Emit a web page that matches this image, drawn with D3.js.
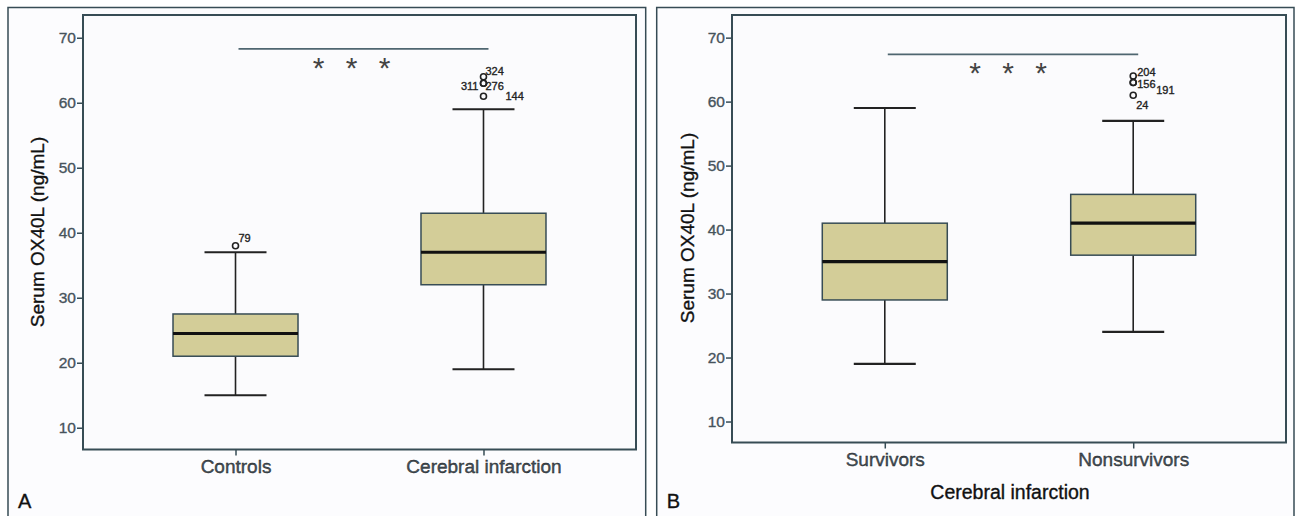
<!DOCTYPE html>
<html>
<head>
<meta charset="utf-8">
<script src="https://cdn.jsdelivr.net/npm/d3@7"></script>
<style>
  body { margin: 0; background: #fff; }
  svg { display: block; font-family: Arial, "Liberation Sans", sans-serif; }
  .tick text { fill: #46535c; }
</style>
</head>
<body>
<svg id="chart" width="1299" height="516"></svg>
<script>
// panel A: controls vs cerebral infarction
var catsA     = ["Controls", "Cerebral infarction"];
var lowA      = [15, 19];
var q1A       = [21, 32];
var medA      = [24.5, 37];
var q3A       = [27.5, 43];
var highA     = [37, 59];
var outValsA  = [[38], [64, 63, 63, 61]];
var outIdsA   = [["79"], ["324", "311", "276", "144"]];

// panel B: survivors vs nonsurvivors
var catsB     = ["Survivors", "Nonsurvivors"];
var lowB      = [19, 24];
var q1B       = [29, 36];
var medB      = [35, 41];
var q3B       = [41, 45.5];
var highB     = [59, 57];
var outValsB  = [[], [64, 63, 63, 61]];
var outIdsB   = [[], ["204", "156", "191", "24"]];

var yTicks = [10, 20, 30, 40, 50, 60, 70];
var yLabel = "Serum OX40L (ng/mL)";

var lineCol = "#374c55",
    boxFill = "#d3cd98";

// label offsets from the circle, SPSS style
var labelPos = {
  "79":  [3, -4, "start"],  "324": [2, -2, "start"], "311": [-5, 7, "end"],
  "276": [2, 7, "start"],   "144": [22, 4, "start"], "204": [4, 0, "start"],
  "156": [4, 6, "start"],   "191": [23, 12, "start"], "24": [3, 14, "start"]
};

var svg = d3.select("#chart");

function heavy(sel, col) { // blurred print look: thin outline round the glyphs
  sel.attr("stroke", col).attr("stroke-width", 0.35);
}

function boxPanel(p) {
  var g = svg.append("g");

  // outer frame of the panel
  g.append("rect")
    .attr("x", p.frame[0]).attr("y", 7.5)
    .attr("width", p.frame[1] - p.frame[0]).attr("height", 540)
    .attr("fill", "#fcfcfe").attr("stroke", lineCol).attr("stroke-width", 1.5);

  var x = d3.scalePoint().domain(p.cats).range([p.left, p.right]).padding(0.615);
  var y = d3.scaleLinear().domain(p.ydom).range([p.bottom, 15]);

  g.append("rect")
    .attr("x", p.left).attr("y", 15)
    .attr("width", p.right - p.left).attr("height", p.bottom - 15)
    .attr("fill", "#fbfbfd").attr("stroke", lineCol).attr("stroke-width", 2);

  var yAxis = g.append("g")
    .attr("transform", "translate(" + p.left + ",0)")
    .call(d3.axisLeft(y).tickValues(yTicks).tickSize(6).tickPadding(1));
  yAxis.select(".domain").remove();
  yAxis.selectAll("line").attr("stroke", lineCol).attr("stroke-width", 1.5);
  yAxis.selectAll("text").attr("font-size", 15.5).attr("font-family", "Arial, 'Liberation Sans', sans-serif")
    .call(heavy, "#46535c");

  var xAxis = g.append("g")
    .attr("transform", "translate(0," + p.bottom + ")")
    .call(d3.axisBottom(x).tickSize(6).tickPadding(p.xPad));
  xAxis.select(".domain").remove();
  xAxis.selectAll("line").attr("stroke", lineCol).attr("stroke-width", 1.5);
  xAxis.selectAll("text").attr("font-size", 19).attr("fill", "#111")
    .attr("font-family", "Arial, 'Liberation Sans', sans-serif")
    .call(heavy, "#111");

  // y title
  g.append("text")
    .attr("transform", "translate(" + p.yTitleX + "," + p.yTitleY + ") rotate(-90)")
    .attr("text-anchor", "middle").attr("font-size", 19).attr("fill", "#111")
    .call(heavy, "#111")
    .text(yLabel);

  if (p.xTitle) {
    g.append("text")
      .attr("x", p.xTitleX).attr("y", 499)
      .attr("text-anchor", "middle").attr("font-size", 19.5).attr("fill", "#111")
      .call(heavy, "#111")
      .text(p.xTitle);
  }

  g.append("text")
    .attr("x", p.frame[0] + 10).attr("y", 508)
    .attr("font-size", 20).attr("fill", "#111")
    .call(heavy, "#111")
    .text(p.letter);

  var boxW = 125, capW = 62;
  p.cats.forEach(function (c, i) {
    var cx = x(c);
    // whiskers
    g.append("line").attr("x1", cx).attr("x2", cx)
      .attr("y1", y(p.high[i])).attr("y2", y(p.q3[i]))
      .attr("stroke", "#222").attr("stroke-width", 1.6);
    g.append("line").attr("x1", cx).attr("x2", cx)
      .attr("y1", y(p.q1[i])).attr("y2", y(p.low[i]))
      .attr("stroke", "#222").attr("stroke-width", 1.6);
    [p.high[i], p.low[i]].forEach(function (v) {
      g.append("line").attr("x1", cx - capW / 2).attr("x2", cx + capW / 2)
        .attr("y1", y(v)).attr("y2", y(v))
        .attr("stroke", "#222").attr("stroke-width", 2.2);
    });
    g.append("rect")
      .attr("x", cx - boxW / 2).attr("y", y(p.q3[i]))
      .attr("width", boxW).attr("height", y(p.q1[i]) - y(p.q3[i]))
      .attr("fill", boxFill).attr("stroke", lineCol).attr("stroke-width", 1.5);
    g.append("line").attr("x1", cx - boxW / 2).attr("x2", cx + boxW / 2)
      .attr("y1", y(p.med[i])).attr("y2", y(p.med[i]))
      .attr("stroke", "#111").attr("stroke-width", 3.2);

    p.outVals[i].forEach(function (v, k) {
      var id = p.outIds[i][k], off = labelPos[id];
      g.append("circle").attr("cx", cx).attr("cy", y(v)).attr("r", 3)
        .attr("fill", "none").attr("stroke", "#222").attr("stroke-width", 1.6);
      g.append("text")
        .attr("x", cx + off[0]).attr("y", y(v) + off[1])
        .attr("text-anchor", off[2]).attr("font-size", 11).attr("fill", "#222")
        .call(heavy, "#222")
        .text(id);
    });
  });

  // significance bar
  var x1 = x(p.cats[0]) + 3, x2 = x(p.cats[1]) + 5;
  g.append("line").attr("x1", x1).attr("x2", x2)
    .attr("y1", y(p.sigAt)).attr("y2", y(p.sigAt))
    .attr("stroke", "#4f6670").attr("stroke-width", 1.8);
  [-1, 0, 1].forEach(function (k) {
    g.append("text")
      .attr("x", (x1 + x2) / 2 + p.starShift + k * 33).attr("y", y(p.sigAt) + 29)
      .attr("text-anchor", "middle").attr("font-size", 30).attr("fill", "#444")
      .text("*");
  });
}

boxPanel({
  frame: [8, 645.7], left: 83, right: 636, bottom: 449.5, ydom: [6.65, 73.5],
  cats: catsA, low: lowA, q1: q1A, med: medA, q3: q3A, high: highA,
  outVals: outValsA, outIds: outIdsA, sigAt: 68.3, starShift: -12,
  xPad: 4, yTitleX: 44, yTitleY: 232, letter: "A"
});

boxPanel({
  frame: [656.7, 1294], left: 732, right: 1286, bottom: 442.5, ydom: [6.72, 73.54],
  cats: catsB, low: lowB, q1: q1B, med: medB, q3: q3B, high: highB,
  outVals: outValsB, outIds: outIdsB, sigAt: 67.4, starShift: -5,
  xPad: 4, yTitleX: 694, yTitleY: 228, letter: "B",
  xTitle: "Cerebral infarction", xTitleX: 1010
});
</script>
</body>
</html>
